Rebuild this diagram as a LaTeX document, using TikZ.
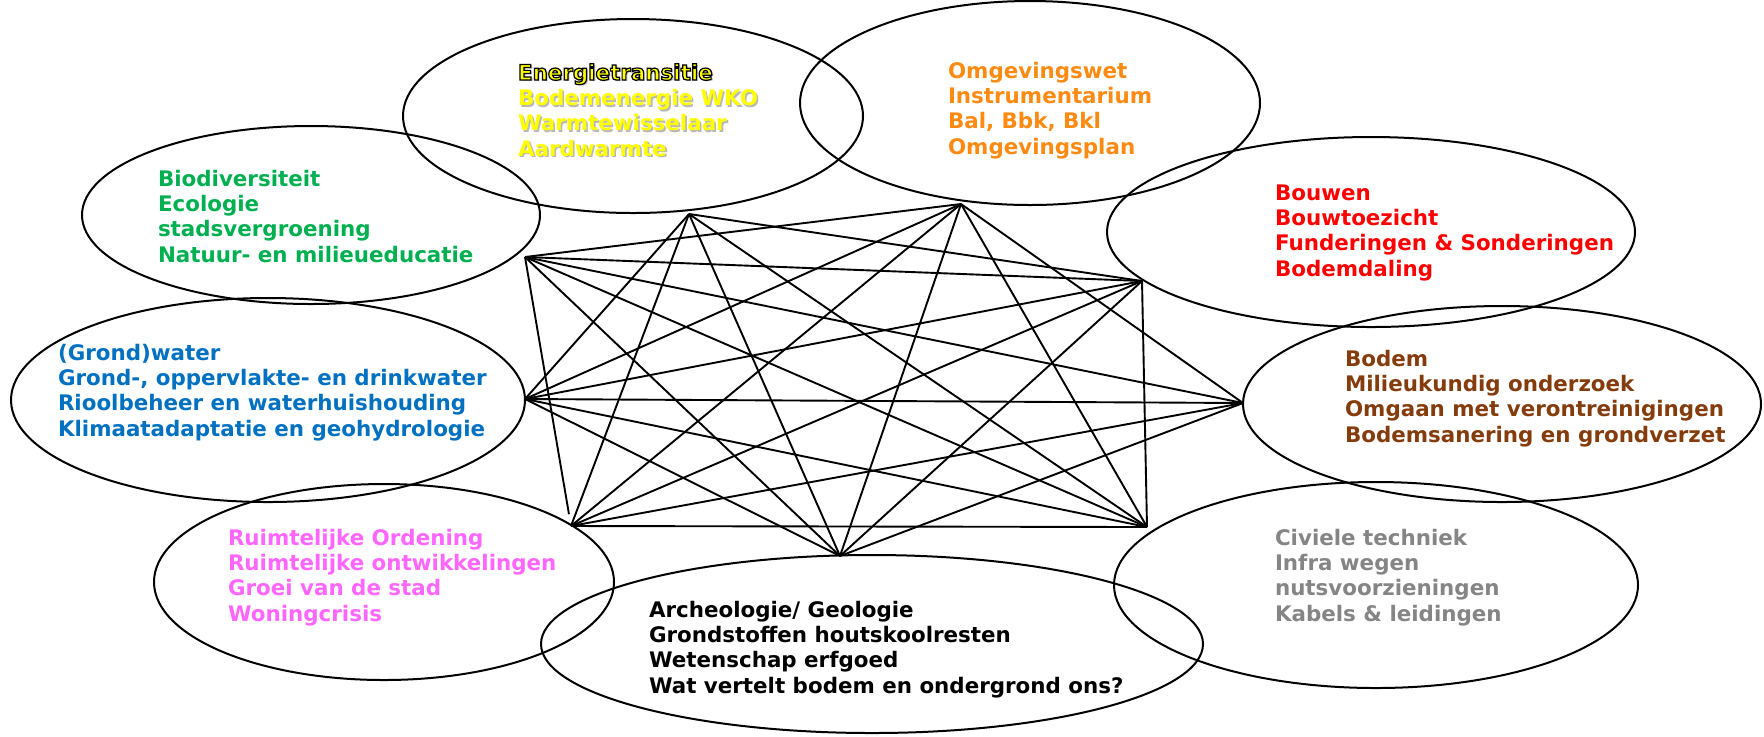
\documentclass[tikz,border=0pt]{standalone}
\usepackage{fontspec}
\setmainfont{DejaVu Sans}
\usetikzlibrary{shapes.geometric}
\definecolor{cYel}{HTML}{FFFF00}
\definecolor{cOra}{HTML}{FF8A12}
\definecolor{cGre}{HTML}{00B050}
\definecolor{cRed}{HTML}{FF0000}
\definecolor{cBlu}{HTML}{0070C0}
\definecolor{cBro}{HTML}{843C0C}
\definecolor{cPin}{HTML}{FF66FF}
\definecolor{cGra}{HTML}{858585}
\begin{document}
\begin{tikzpicture}[x=0.5pt,y=-0.5pt,
  blob/.style={draw=black, line width=1pt, ellipse, inner sep=0pt, outer sep=0pt},
  link/.style={draw=black, line width=0.95pt},
  lbl/.style={anchor=base west, inner sep=0pt, outer sep=0pt, font=\bfseries\fontsize{10.7}{12.7}\selectfont},
  shade/.style={lbl, text=black!28}]
\useasboundingbox (0,0) rectangle (1764,736);
% ellipses
\node[blob, minimum width=230pt, minimum height=97pt]  (e1) at (633,116) {};
\node[blob, minimum width=230pt, minimum height=102pt] (e2) at (1030,103) {};
\node[blob, minimum width=229pt, minimum height=89pt]  (e3) at (311,215) {};
\node[blob, minimum width=264pt, minimum height=95pt]  (e4) at (1371,232) {};
\node[blob, minimum width=257pt, minimum height=102pt] (e5) at (268,400) {};
\node[blob, minimum width=259pt, minimum height=98pt]  (e6) at (1502,404) {};
\node[blob, minimum width=230pt, minimum height=98pt]  (e7) at (384,582) {};
\node[blob, minimum width=262pt, minimum height=103pt] (e8) at (1376,585) {};
\node[blob, minimum width=331pt, minimum height=89pt]  (e9) at (872,644) {};
% hubs
\coordinate (A) at (525,257);
\coordinate (B) at (689,214);
\coordinate (C) at (961,204);
\coordinate (D) at (1142,281);
\coordinate (E) at (1243,403);
\coordinate (F) at (1147,527);
\coordinate (G) at (840,556);
\coordinate (H) at (571,526);
\coordinate (I) at (525,399);
% connectors
\foreach \a/\b in {A/C,A/D,A/E,A/F,A/G,B/D,B/F,B/G,B/H,B/I,C/E,C/F,C/G,C/H,C/I,D/F,D/G,D/H,D/I,E/G,E/H,E/I,F/H,F/I,G/I}
  \draw[link] (\a) -- (\b);
\draw[link, shorten >=6pt] (A) -- (H);
% texts
\foreach \t [count=\i] in {Energietransitie, Bodemenergie WKO, Warmtewisselaar, Aardwarmte}
  \node[shade] (esh\i) at (519.6,{81.6+25.4*(\i-1)}) {\t};
\node[lbl, text=cYel] (en1) at (518,80) {\special{pdf:literal direct 0 0 0 RG 2 Tr 0.6 w}Energietransitie\special{pdf:literal direct 0 Tr}};
\foreach \t [count=\i from 2] in {Bodemenergie WKO, Warmtewisselaar, Aardwarmte}
  \node[lbl, text=cYel] (en\i) at (518,{80+25.4*(\i-1)}) {\t};
\foreach \t [count=\i] in {Omgevingswet, Instrumentarium, {Bal, Bbk, Bkl}, Omgevingsplan}
  \node[lbl, text=cOra] (om\i) at (948,{78+25.4*(\i-1)}) {\t};
\foreach \t [count=\i] in {Biodiversiteit, Ecologie, stadsvergroening, Natuur- en milieueducatie}
  \node[lbl, text=cGre] (bi\i) at (158,{186+25.4*(\i-1)}) {\t};
\foreach \t [count=\i] in {Bouwen, Bouwtoezicht, Funderingen \& Sonderingen, Bodemdaling}
  \node[lbl, text=cRed] (bo\i) at (1275,{200+25.4*(\i-1)}) {\t};
\foreach \t [count=\i] in {(Grond)water, {Grond-, oppervlakte- en drinkwater}, Rioolbeheer en waterhuishouding, Klimaatadaptatie en geohydrologie}
  \node[lbl, text=cBlu] (gw\i) at (58,{360+25.4*(\i-1)}) {\t};
\foreach \t [count=\i] in {Bodem, Milieukundig onderzoek, Omgaan met verontreinigingen, Bodemsanering en grondverzet}
  \node[lbl, text=cBro] (bd\i) at (1345,{366+25.4*(\i-1)}) {\t};
\foreach \t [count=\i] in {Ruimtelijke Ordening, Ruimtelijke ontwikkelingen, Groei van de stad, Woningcrisis}
  \node[lbl, text=cPin] (ro\i) at (228,{545+25.4*(\i-1)}) {\t};
\foreach \t [count=\i] in {Civiele techniek, Infra wegen, nutsvoorzieningen, Kabels \& leidingen}
  \node[lbl, text=cGra] (ci\i) at (1275,{545+25.4*(\i-1)}) {\t};
\foreach \t [count=\i] in {Archeologie/ Geologie, Grondstoffen houtskoolresten, Wetenschap erfgoed, Wat vertelt bodem en ondergrond ons?}
  \node[lbl, text=black] (ar\i) at (649,{617+25.4*(\i-1)}) {\t};
\end{tikzpicture}
\end{document}
